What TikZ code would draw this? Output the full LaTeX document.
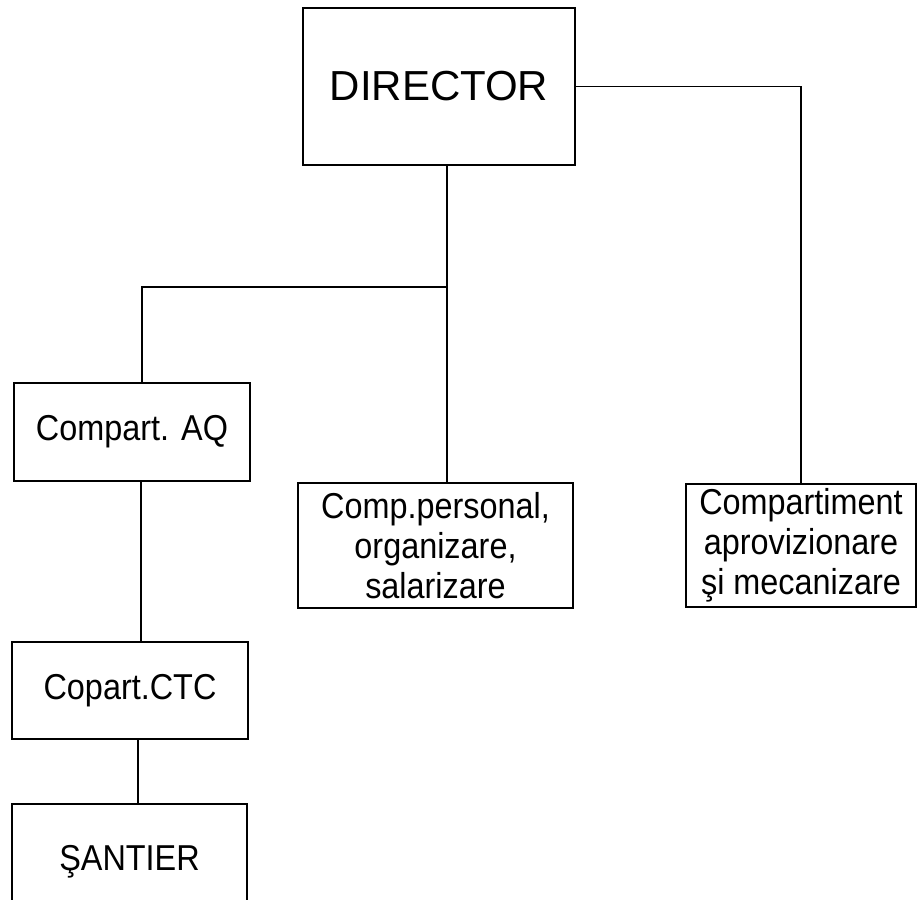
\documentclass[tikz,border=0pt]{standalone}
\usepackage{fontspec}
\setmainfont{Liberation Sans}
\newfontfamily\narrowsans[FakeStretch=0.9]{Liberation Sans}

\begin{document}
\begin{tikzpicture}[x=0.5pt,y=-0.5pt,line width=0.6pt,
  head node/.style={rectangle,draw,line width=1pt,inner sep=0pt,
  font=\fontsize{21}{24}\selectfont},
  unit node/.style={rectangle,draw,line width=1pt,inner sep=0pt,
  align=center,font=\narrowsans\fontsize{18}{20}\selectfont}]

  \useasboundingbox (0,0) rectangle (920,899);

  \node[head node,minimum width=136pt,minimum height=78.5pt] (dir) at (439,86.5) {DIRECTOR};

  \node[unit node,minimum width=118pt,minimum height=49pt] (aq) at (132,432) {Compart. AQ};
  \node[unit node,minimum width=118pt,minimum height=48.5pt] (ctc) at (130,690.5) {Copart.CTC};
  \node[unit node,minimum width=117.5pt,minimum height=58pt] (site) at (129.5,862) {ŞANTIER};
  \node[unit node,minimum width=137.5pt,minimum height=62.5pt] (pers) at (435.5,545.5)
    {Comp.personal,\\organizare,\\salarizare};
  \node[unit node,minimum width=115pt,minimum height=61.5pt] (mech) at (801,545.5)
    {Compartiment\\aprovizionare\\şi mecanizare};

  % branching point under the director
  \coordinate (split) at (447,287);

  \draw (dir.east) -| (mech.north);
  \draw (split |- dir.south) -- (split |- pers.north);
  \draw (split) -| ([xshift=5pt]aq.north);
  \draw ([xshift=4.5pt]aq.south) -- ([xshift=4.5pt]aq.south |- ctc.north);
  \draw ([xshift=4pt]ctc.south) -- ([xshift=4pt]ctc.south |- site.north);

\end{tikzpicture}
\end{document}
